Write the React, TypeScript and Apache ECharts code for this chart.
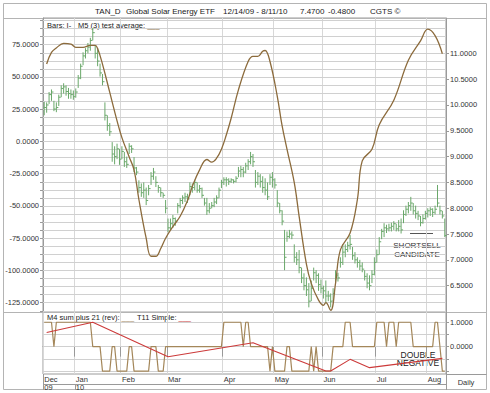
import React, { useEffect, useRef } from "react";
import * as echarts from "echarts";

// ---------- calendar (trading days 12/14/09 - 8/11/10) ----------
const START = "2009-12-14";
const END = "2010-08-11";
const HOLIDAYS = ["2009-12-25", "2010-01-01", "2010-01-18", "2010-02-15", "2010-04-02", "2010-05-31", "2010-07-05"];
const MONTHS = ["Jan", "Feb", "Mar", "Apr", "May", "Jun", "Jul", "Aug", "Sep", "Oct", "Nov", "Dec"];

function tradingDays(start: string, end: string): string[] {
  const out: string[] = [];
  const [ys, ms, ds] = start.split("-").map(Number);
  const [ye, me, de] = end.split("-").map(Number);
  let t = Date.UTC(ys, ms - 1, ds);
  const tEnd = Date.UTC(ye, me - 1, de);
  while (t <= tEnd) {
    const d = new Date(t);
    const wd = d.getUTCDay();
    const s = d.toISOString().slice(0, 10);
    if (wd !== 0 && wd !== 6 && HOLIDAYS.indexOf(s) < 0) out.push(s);
    t += 86400000;
  }
  return out;
}
const DATES = tradingDays(START, END);

// ---------- price bars (right axis) ----------
const HIGH = [
  10.06, 10.05, 10.25, 10.30, 10.08, 10.05, 10.20, 10.38, 10.42, 10.38,
  10.33, 10.30, 10.28, 10.32, 10.58, 10.80, 11.02, 11.10, 11.20, 11.30,
  11.49, 11.16, 11.10, 10.80, 10.60, 10.05, 9.80, 9.65, 9.28, 9.20,
  9.25, 9.15, 9.20, 9.09, 9.00, 9.26, 9.22, 8.99, 8.80, 8.54,
  8.48, 8.50, 8.40, 8.45, 8.70, 8.78, 8.62, 8.45, 8.40, 8.30,
  8.16, 7.80, 7.80, 7.87, 7.82, 8.10, 8.20, 8.25, 8.30, 8.28,
  8.50, 8.48, 8.55, 8.50, 8.45, 8.40, 8.20, 8.20, 8.10, 8.12,
  8.20, 8.25, 8.40, 8.55, 8.60, 8.60, 8.58, 8.58, 8.56, 8.62,
  8.80, 8.82, 8.80, 8.88, 8.95, 9.09, 9.05, 8.74, 8.70, 8.66,
  8.62, 8.58, 8.50, 8.66, 8.70, 8.58, 8.35, 8.10, 7.96, 7.58,
  7.55, 7.58, 7.55, 7.30, 7.15, 7.19, 6.85, 6.74, 6.66, 6.55,
  6.60, 6.85, 6.80, 6.74, 6.62, 6.50, 6.60, 6.40, 6.35, 6.45,
  6.80, 6.75, 7.05, 7.30, 7.30, 7.35, 7.48, 7.25, 7.15, 7.05,
  7.00, 6.95, 6.80, 6.74, 6.70, 6.80, 7.05, 7.20, 7.44, 7.60,
  7.71, 7.68, 7.70, 7.72, 7.75, 7.70, 7.77, 7.80, 7.96, 8.05,
  8.12, 8.22, 8.10, 8.05, 7.95, 7.85, 7.88, 7.95, 8.00, 8.02,
  8.00, 8.05, 8.45, 8.05, 7.95, 7.80,
];
const LOW = [
  9.80, 9.85, 10.02, 10.08, 9.88, 9.86, 9.98, 10.15, 10.22, 10.18,
  10.12, 10.12, 10.10, 10.14, 10.33, 10.50, 10.77, 10.90, 11.00, 11.05,
  11.25, 10.90, 10.75, 10.55, 10.38, 9.70, 9.50, 9.40, 8.90, 8.85,
  8.95, 8.84, 8.95, 8.80, 8.78, 9.05, 9.07, 8.70, 8.64, 8.30,
  8.22, 8.20, 8.06, 8.25, 8.45, 8.55, 8.41, 8.30, 8.22, 8.20,
  7.90, 7.54, 7.58, 7.62, 7.66, 7.90, 8.00, 8.08, 8.12, 8.10,
  8.25, 8.30, 8.35, 8.30, 8.30, 8.20, 8.05, 7.87, 7.90, 8.00,
  8.02, 8.08, 8.20, 8.39, 8.45, 8.42, 8.45, 8.49, 8.48, 8.50,
  8.60, 8.60, 8.60, 8.68, 8.74, 8.85, 8.80, 8.40, 8.45, 8.40,
  8.30, 8.25, 8.16, 8.45, 8.40, 8.38, 8.02, 7.90, 7.67, 6.80,
  7.35, 7.42, 7.40, 6.95, 6.90, 6.74, 6.55, 6.41, 6.30, 6.08,
  6.20, 6.60, 6.55, 6.40, 6.35, 6.25, 6.16, 6.20, 6.08, 6.20,
  6.55, 6.58, 6.85, 6.90, 7.05, 7.15, 7.20, 7.00, 6.93, 6.85,
  6.80, 6.76, 6.60, 6.45, 6.41, 6.55, 6.70, 6.95, 7.10, 7.40,
  7.44, 7.52, 7.55, 7.55, 7.58, 7.55, 7.55, 7.51, 7.71, 7.85,
  7.90, 7.95, 7.88, 7.80, 7.77, 7.65, 7.70, 7.78, 7.82, 7.85,
  7.83, 7.88, 8.02, 7.88, 7.80, 7.44,
];
const CLOSE = [
  9.95, 10.00, 10.20, 10.25, 9.92, 9.95, 10.15, 10.32, 10.35, 10.26,
  10.22, 10.20, 10.16, 10.25, 10.52, 10.75, 10.95, 11.05, 11.12, 11.25,
  11.40, 11.00, 10.85, 10.62, 10.45, 9.80, 9.60, 9.48, 9.05, 9.00,
  9.15, 8.95, 9.10, 8.90, 8.85, 9.20, 9.15, 8.78, 8.70, 8.40,
  8.30, 8.35, 8.15, 8.38, 8.62, 8.70, 8.50, 8.40, 8.30, 8.25,
  8.00, 7.62, 7.70, 7.80, 7.75, 8.05, 8.15, 8.20, 8.22, 8.18,
  8.42, 8.40, 8.50, 8.35, 8.38, 8.25, 8.10, 7.95, 8.00, 8.05,
  8.12, 8.20, 8.35, 8.50, 8.55, 8.55, 8.52, 8.55, 8.52, 8.58,
  8.72, 8.75, 8.70, 8.82, 8.90, 9.00, 8.90, 8.50, 8.62, 8.52,
  8.40, 8.35, 8.22, 8.60, 8.55, 8.45, 8.10, 7.95, 7.75, 7.05,
  7.45, 7.50, 7.48, 7.05, 7.00, 6.85, 6.65, 6.50, 6.42, 6.20,
  6.45, 6.75, 6.70, 6.52, 6.45, 6.40, 6.30, 6.30, 6.20, 6.35,
  6.70, 6.65, 6.95, 7.15, 7.20, 7.28, 7.30, 7.08, 7.00, 6.95,
  6.88, 6.82, 6.68, 6.55, 6.50, 6.72, 6.95, 7.10, 7.35, 7.55,
  7.62, 7.60, 7.62, 7.65, 7.70, 7.60, 7.65, 7.58, 7.88, 7.98,
  8.05, 8.10, 7.95, 7.90, 7.85, 7.72, 7.80, 7.90, 7.95, 7.98,
  7.92, 7.98, 8.10, 7.95, 7.85, 7.47,
];

// ---------- M5 (3) test average (left axis), [day index, value] ----------
const M5_AVG: [number, number][] = [
  [1, 60], [3, 69], [5, 72.5], [8, 76], [11, 75.5], [13, 73], [16, 73], [19, 74.5], [21, 74.5],
  [22, 72], [24, 60], [27, 38], [30, 16], [32, 3], [35, -12], [37, -22], [39, -45], [42, -75],
  [44, -89], [46, -89], [48, -83], [50, -75], [53, -66], [56, -58], [59, -46], [61, -35],
  [64, -22], [67, -14], [69, -16], [71, -13], [73, -6], [75, 5], [77, 18], [80, 40], [84, 62],
  [86, 66], [88, 66], [90, 70], [91, 70.5], [93, 62], [96, 35], [98, 12], [100, -6],
  [103, -32], [105, -58], [108, -95], [110, -110], [113, -123], [115, -127], [116, -125],
  [118, -131], [120, -110], [122, -84], [126, -71], [129, -45], [131, -15], [135, -6],
  [138, 13], [144, 32], [150, 63], [155, 78], [158, 87], [161, 82], [164, 68],
];

// ---------- lower panel ----------
const M4_SUM = [
  1, 1, 1, 1, 0, 1, 1, 1, 1, 1, 1, 1, 1, 1, 1, 1, 1, 1, 1, 1,
  0, 0, 0, 0, -1, -1, -1, -1, 0, 0, -1, -1, -1, -1, -1, 0, 0, -1, -1, -1,
  -1, -1, -1, -1, 0, 0, 0, -1, -1, -1, 0, 0, 0, 0, 0, 0, 0, 0, 0, 0,
  0, 0, 0, 0, 0, 0, 0, 0, 0, 0, 0, 0, 0, 0, 1, 1, 1, 1, 1, 1,
  1, 1, 0, 1, 1, 0, 0, 0, 0, 0, 0, 0, 0, -1, 0, -1, -1, -1, -1, -1,
  0, 0, -1, -1, -1, -1, -1, -1, -1, -1, 0, -1, 0, -1, -1, -1, -1, -1, -1, 0,
  0, 0, 0, 0, 1, 1, 1, 0, 0, 0, 0, 0, 0, 0, 0, 0, 0, 1, 1, 1,
  1, 0, 1, 1, 1, 0, 1, 1, 1, 1, 1, 1, 0, 0, 0, 0, 0, 0, 0, 0,
  0, 1, 1, 0, -1, -1,
];
const T11_SIMPLE: [number, number][] = [
  [1, 0.58], [20, 1.0], [51, -0.41], [86, 0.16], [116, -1.0], [118, -1.0],
  [126, -0.52], [134, -0.86], [164, -0.48],
];

// ---------- axis labels / grid levels ----------
const LEFT_LABELS = [75, 50, 25, 0, -25, -50, -75, -100, -125];
const RIGHT_LABELS = [11, 10.5, 10, 9.5, 9, 8.5, 8, 7.5, 7, 6.5];
const LOWER_LABELS = [1, 0];
const LOWER_GRID = [-1, -0.5, 0, 0.5, 1];

const FONT = "Liberation Sans, Arial, Helvetica, sans-serif";
const BROWN = "#8c6b3c";
const STEP_BROWN = "#a4875a";
const RED = "#cc3a3a";
const GREEN = "#6aa86a";
const GRID_C = "#d0d0d0";
const AXIS_C = "#9a9a9a";

export default function App() {
  const ref = useRef<HTMLDivElement>(null);

  useEffect(() => {
    if (!ref.current) return;
    const chart = echarts.init(ref.current, undefined, { renderer: "svg" });

    const isMonthStart = (i: number) =>
      i === 0 || DATES[i].slice(5, 7) !== DATES[i - 1].slice(5, 7);
    const monthLabel = (i: number) => {
      const m = Number(DATES[i].slice(5, 7)) - 1;
      const prevYear = i === 0 ? "" : DATES[i - 1].slice(2, 4);
      const yr = DATES[i].slice(2, 4);
      return MONTHS[m] + (yr !== prevYear ? "\n" + yr : "");
    };

    const leftTicks: number[] = [];
    for (let k = -21; k <= 15; k++) leftTicks.push(k * 6.25);

    const axisText = { fontFamily: FONT, fontSize: 7.5, color: "#333" };
    const gridMark = (vals: number[]) => ({
      silent: true,
      symbol: "none",
      z: 1,
      label: { show: false },
      lineStyle: { color: GRID_C, width: 1, type: "solid" },
      emphasis: { disabled: true },
      data: vals.map((v) => ({ yAxis: v })),
    });

    const xBase = {
      type: "category" as const,
      data: DATES,
      boundaryGap: true,
    };

    chart.setOption({
      animation: false,
      backgroundColor: "#fff",
      grid: [
        { left: 43, top: 18, width: 403, height: 294, show: true, borderColor: AXIS_C, borderWidth: 1 },
        { left: 43, top: 312, width: 403, height: 62, show: true, borderColor: AXIS_C, borderWidth: 1 },
      ],
      xAxis: [
        {
          ...xBase,
          gridIndex: 0,
          axisLine: { show: false },
          axisTick: { show: false },
          axisLabel: { show: false },
          splitLine: { show: true, interval: (i: number) => isMonthStart(i), lineStyle: { color: "#d8d8d8", width: 1 } },
        },
        {
          ...xBase,
          gridIndex: 1,
          axisLine: { show: true, lineStyle: { color: AXIS_C } },
          axisTick: { show: true, interval: (i: number) => isMonthStart(i) && i > 0, length: 10, lineStyle: { color: AXIS_C } },
          axisLabel: {
            ...axisText,
            interval: (i: number) => isMonthStart(i),
            formatter: (_v: string, i: number) => monthLabel(i),
            align: "left",
            margin: 1,
            lineHeight: 8.5,
          },
          splitLine: { show: true, interval: (i: number) => isMonthStart(i), lineStyle: { color: "#d8d8d8", width: 1 } },
        },
      ],
      yAxis: [
        {
          type: "value",
          gridIndex: 0,
          position: "left",
          min: -132.2,
          max: 95.7,
          axisLine: { show: true, lineStyle: { color: AXIS_C } },
          axisTick: { show: true, customValues: leftTicks, length: 3, lineStyle: { color: AXIS_C } },
          axisLabel: { ...axisText, customValues: LEFT_LABELS, margin: 4, formatter: (v: number) => v.toFixed(4) },
          splitLine: { show: false },
        },
        {
          type: "value",
          gridIndex: 0,
          position: "right",
          min: 5.99,
          max: 11.684,
          axisLine: { show: true, lineStyle: { color: AXIS_C } },
          axisTick: { show: true, customValues: RIGHT_LABELS, length: 3, lineStyle: { color: AXIS_C } },
          axisLabel: { ...axisText, customValues: RIGHT_LABELS, margin: 4, formatter: (v: number) => v.toFixed(4) },
          splitLine: { show: false },
        },
        {
          type: "value",
          gridIndex: 1,
          position: "right",
          min: -1.12,
          max: 1.42,
          axisLine: { show: true, lineStyle: { color: AXIS_C } },
          axisTick: { show: true, customValues: LOWER_GRID, length: 3, lineStyle: { color: AXIS_C } },
          axisLabel: { ...axisText, customValues: LOWER_LABELS, margin: 4, formatter: (v: number) => v.toFixed(4) },
          splitLine: { show: false },
        },
      ],
      series: [
        {
          type: "custom",
          name: "Bars",
          xAxisIndex: 0,
          yAxisIndex: 1,
          data: DATES.map((_d, i) => [i, HIGH[i], LOW[i], CLOSE[i]]),
          encode: { x: 0, y: [1, 2, 3] },
          renderItem: (_params: any, api: any) => {
            const x = api.value(0);
            const hi = api.coord([x, api.value(1)]);
            const lo = api.coord([x, api.value(2)]);
            const cl = api.coord([x, api.value(3)]);
            const style = { stroke: GREEN, lineWidth: 1 };
            return {
              type: "group",
              children: [
                { type: "line", shape: { x1: hi[0], y1: hi[1], x2: lo[0], y2: lo[1] }, style },
                { type: "line", shape: { x1: cl[0], y1: cl[1], x2: cl[0] + 2, y2: cl[1] }, style },
              ],
            };
          },
          z: 3,
        },
        {
          type: "line",
          name: "M5 (3) test average",
          xAxisIndex: 0,
          yAxisIndex: 0,
          data: M5_AVG,
          smooth: 0.4,
          showSymbol: false,
          lineStyle: { color: BROWN, width: 1.3 },
          markLine: gridMark(leftTicks),
          z: 4,
        },
        {
          type: "line",
          name: "M4 sum plus 21 (rev)",
          xAxisIndex: 1,
          yAxisIndex: 2,
          data: M4_SUM,
          showSymbol: false,
          lineStyle: { color: STEP_BROWN, width: 1.2 },
          markLine: gridMark(LOWER_GRID),
          z: 3,
        },
        {
          type: "line",
          name: "T11 Simple",
          xAxisIndex: 1,
          yAxisIndex: 2,
          data: T11_SIMPLE,
          showSymbol: false,
          lineStyle: { color: RED, width: 1.1 },
          z: 4,
        },
      ],
      graphic: [
        { type: "rect", shape: { x: 3.5, y: 3.5, width: 483, height: 386 }, style: { fill: "none", stroke: "#b4b4b4", lineWidth: 1 }, silent: true },
        { type: "line", shape: { x1: 3.5, y1: 18.5, x2: 486.5, y2: 18.5 }, style: { stroke: "#b4b4b4", lineWidth: 1 } },
        { type: "line", shape: { x1: 3.5, y1: 312.5, x2: 486.5, y2: 312.5 }, style: { stroke: "#b4b4b4", lineWidth: 1 } },
        { type: "line", shape: { x1: 43.5, y1: 384.5, x2: 446.5, y2: 384.5 }, style: { stroke: AXIS_C, lineWidth: 1 } },
        { type: "line", shape: { x1: 43.5, y1: 374, x2: 43.5, y2: 390 }, style: { stroke: AXIS_C, lineWidth: 1 } },
        { type: "line", shape: { x1: 446.5, y1: 374, x2: 446.5, y2: 390 }, style: { stroke: AXIS_C, lineWidth: 1 } },
        { type: "line", shape: { x1: 446.5, y1: 374.5, x2: 486.5, y2: 374.5 }, style: { stroke: AXIS_C, lineWidth: 1 } },
        // title
        ...[
          ["TAN_D", 95],
          ["Global Solar Energy ETF", 126],
          ["12/14/09 - 8/11/10", 223],
          ["7.4700", 300],
          ["-0.4800", 328],
          ["CGTS ©", 370],
        ].map(([t, x]) => ({
          type: "text",
          x: x as number,
          y: 11,
          style: { text: t as string, fontFamily: FONT, fontSize: 8, fill: "#222", verticalAlign: "middle" },
        })),
        // legends
        { type: "text", x: 47, y: 25, style: { text: "Bars: I-", fontFamily: FONT, fontSize: 7.5, fill: "#222", verticalAlign: "middle" } },
        {
          type: "text", x: 78, y: 25,
          style: {
            text: "{t|M5 (3) test average: }{u|___}",
            fontFamily: FONT, fontSize: 7.5, verticalAlign: "middle",
            rich: { t: { fill: "#222", fontFamily: FONT, fontSize: 7.5 }, u: { fill: BROWN, fontFamily: FONT, fontSize: 7.5 } },
          },
        },
        {
          type: "text", x: 47, y: 317.5,
          style: {
            text: "{t|M4 sum plus 21 (rev): }{u|___}",
            fontFamily: FONT, fontSize: 7.5, verticalAlign: "middle",
            rich: { t: { fill: "#222", fontFamily: FONT, fontSize: 7.5 }, u: { fill: STEP_BROWN, fontFamily: FONT, fontSize: 7.5 } },
          },
        },
        {
          type: "text", x: 137, y: 317.5,
          style: {
            text: "{t|T11 Simple: }{u|___}",
            fontFamily: FONT, fontSize: 7.5, verticalAlign: "middle",
            rich: { t: { fill: "#222", fontFamily: FONT, fontSize: 7.5 }, u: { fill: RED, fontFamily: FONT, fontSize: 7.5 } },
          },
        },
        // annotations
        { type: "line", shape: { x1: 410, y1: 233.5, x2: 433, y2: 233.5 }, style: { stroke: "#555", lineWidth: 1 } },
        {
          type: "text", x: 417, y: 250,
          style: { text: "SHORTSELL\nCANDIDATE", fontFamily: FONT, fontSize: 8, lineHeight: 8.5, fill: "#333", align: "center", verticalAlign: "middle" },
        },
        {
          type: "text", x: 418, y: 359,
          style: { text: "DOUBLE\nNEGATIVE", fontFamily: FONT, fontSize: 8.5, lineHeight: 8.5, fill: "#222", align: "center", verticalAlign: "middle" },
        },
        { type: "text", x: 466, y: 382, style: { text: "Daily", fontFamily: FONT, fontSize: 7.5, fill: "#333", align: "center", verticalAlign: "middle" } },
      ],
    });

    // year-row separator at the start of the new year
    const janIdx = DATES.findIndex((d, i) => i > 0 && d.slice(0, 4) !== DATES[i - 1].slice(0, 4));
    const c = chart.convertToPixel({ xAxisIndex: 1 }, DATES[janIdx]) as number;
    const half = 403 / DATES.length / 2;
    if (typeof c === "number" && isFinite(c)) {
      const xs = Math.round(c - half) + 0.5;
      chart.setOption({
        graphic: [
          { id: "yearSep", type: "line", shape: { x1: xs, y1: 384, x2: xs, y2: 390 }, style: { stroke: AXIS_C, lineWidth: 1 } },
        ],
      });
    }

    return () => chart.dispose();
  }, []);

  return <div ref={ref} style={{ position: "fixed", left: 0, top: 0, width: 490, height: 393 }} />;
}
